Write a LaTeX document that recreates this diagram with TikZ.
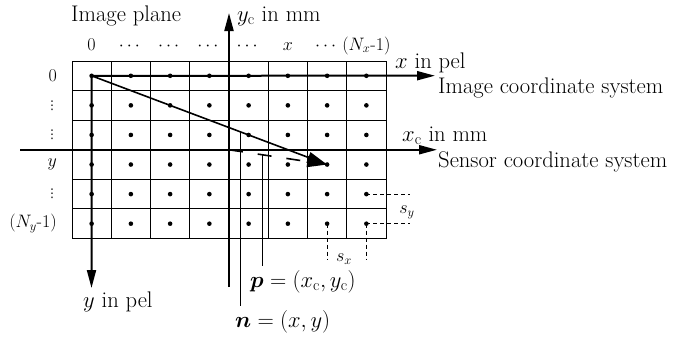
\RequirePackage{fix-cm}
\documentclass[tikz,border=0pt]{standalone}
\usepackage{amsmath,bm}
\usepackage{fontspec}
\newfontfamily\symfont{DejaVu Sans}
\usetikzlibrary{arrows.meta,calc}
\begin{document}
\begin{tikzpicture}[x=1pt,y=-1pt,
  big/.style={font=\fontsize{22.6}{26}\selectfont, inner sep=0pt},
  small/.style={font=\fontsize{18}{21}\selectfont, inner sep=0pt},
  vdot/.style={font=\fontsize{12}{14}\selectfont\symfont, inner sep=0pt},
  gridline/.style={line width=0.9pt},
  dot/.style={circle, fill, inner sep=0pt, minimum size=4.6pt},
  axis/.style={line width=2pt, -{Triangle[length=18pt,width=9pt]}},
  vec/.style={line width=1.6pt, -{Triangle[length=20pt,width=11pt]}},
  dvec/.style={line width=1.6pt, dash pattern=on 14pt off 15pt, -{Triangle[length=20pt,width=11pt]}},
  helper/.style={line width=0.9pt},
  meas/.style={line width=0.8pt, dash pattern=on 4pt off 3pt}]
\useasboundingbox (0,0) rectangle (673,341);
% grid
\foreach \i in {0,...,8} \draw[gridline] ({72+\i*39.25},61) -- ({72+\i*39.25},238.5);
\foreach \j in {0,...,6} \draw[gridline] (72,{61+\j*29.58}) -- (386,{61+\j*29.58});
% pixel centres
\foreach \i in {0,...,7} \foreach \j in {0,...,5}
  \node[dot] (d-\i-\j) at ({72+(\i+0.5)*39.25},{61+(\j+0.5)*29.58}) {};
% coordinates
\coordinate (xtip) at (435,75.7);
\coordinate (ytip) at (91.5,288);
\coordinate (xcstart) at (20,149.75);
\coordinate (xctip) at (437,149.75);
\coordinate (ycstart) at (229,287);
\coordinate (yctip) at (229,13);
\coordinate (S) at (229,149.75);
% labels
\node[big, anchor=base west] (title) at (71,21) {Image plane};
\node[big, anchor=base west] (yclab) at (237,21) {$y_{\mathrm{c}}$ in mm};
\node[big, anchor=base west] (xlab) at (395,68) {$x$ in pel};
\node[big, anchor=base west] (icslab) at (438,93) {Image coordinate system};
\node[big, anchor=base west] (xclab) at (402,141) {$x_{\mathrm{c}}$ in mm};
\node[big, anchor=base west] (scslab) at (438,167) {Sensor coordinate system};
\node[big, anchor=base west] (ylab) at (83,307) {$y$ in pel};
\node[big, anchor=base west] (plab) at (250,287) {$\bm{p} = (x_{\mathrm{c}}, y_{\mathrm{c}})$};
\node[big, anchor=base west] (nlab) at (235,327) {$\bm{n} = (x, y)$};
\node[small] (sx) at (344,259) {$s_x$};
\node[small] (sy) at (407,212) {$s_y$};
% column labels
\node[small, anchor=base] (c0) at (d-0-0 |- 0,50) {0};
\node[small, anchor=base] (c1) at (d-1-0 |- 0,50) {$\cdots$};
\node[small, anchor=base] (c2) at (d-2-0 |- 0,50) {$\cdots$};
\node[small, anchor=base] (c3) at (d-3-0 |- 0,50) {$\cdots$};
\node[small, anchor=base] (c4) at (d-4-0 |- 0,50) {$\cdots$};
\node[small, anchor=base] (c5) at (d-5-0 |- 0,50) {$x$};
\node[small, anchor=base] (c6) at (d-6-0 |- 0,50) {$\cdots$};
\node[small, anchor=base] (c7) at (d-7-0 |- 0,50) {$(N_x$-$1)$};
% row labels
\node[small, anchor=east] (r0) at (57,0 |- d-0-0) {0};
\node[vdot] (r1) at (52,0 |- d-0-1) {⋮};
\node[vdot] (r2) at (52,0 |- d-0-2) {⋮};
\node[small, anchor=east] (r3) at (57,0 |- d-0-3) {$y$};
\node[vdot] (r4) at (52,0 |- d-0-4) {⋮};
\node[small, anchor=east] (r5) at (57,0 |- d-0-5) {$(N_y$-$1)$};
% axes
\draw[axis] (xcstart) -- (xctip);
\draw[axis] (ycstart) -- (yctip);
\draw[axis] (d-0-0.center) -- (xtip);
\draw[axis] (d-0-0.center) -- (ytip);
% vectors
\draw[vec] (d-0-0.center) -- (d-6-3.center);
\draw[dvec] (S) -- (d-6-3.center);
% pointer lines
\coordinate (nTop) at ($(d-0-0.center)!0.63!(d-6-3.center)$);
\coordinate (pTop) at ($(S)!0.336!(d-6-3.center)$);
\draw[helper] (nTop) -- ([yshift=4pt]nTop |- nlab.north);
\draw[helper] (pTop) -- ([yshift=4pt]pTop |- plab.north);
% spacing
\draw[meas] (d-7-4.center) -- ++(44,0);
\draw[meas] (d-7-5.center) -- ++(44,0);
\draw[meas] (d-6-5.center) -- ++(0,36);
\draw[meas] (d-7-5.center) -- ++(0,36);
\end{tikzpicture}
\end{document}
